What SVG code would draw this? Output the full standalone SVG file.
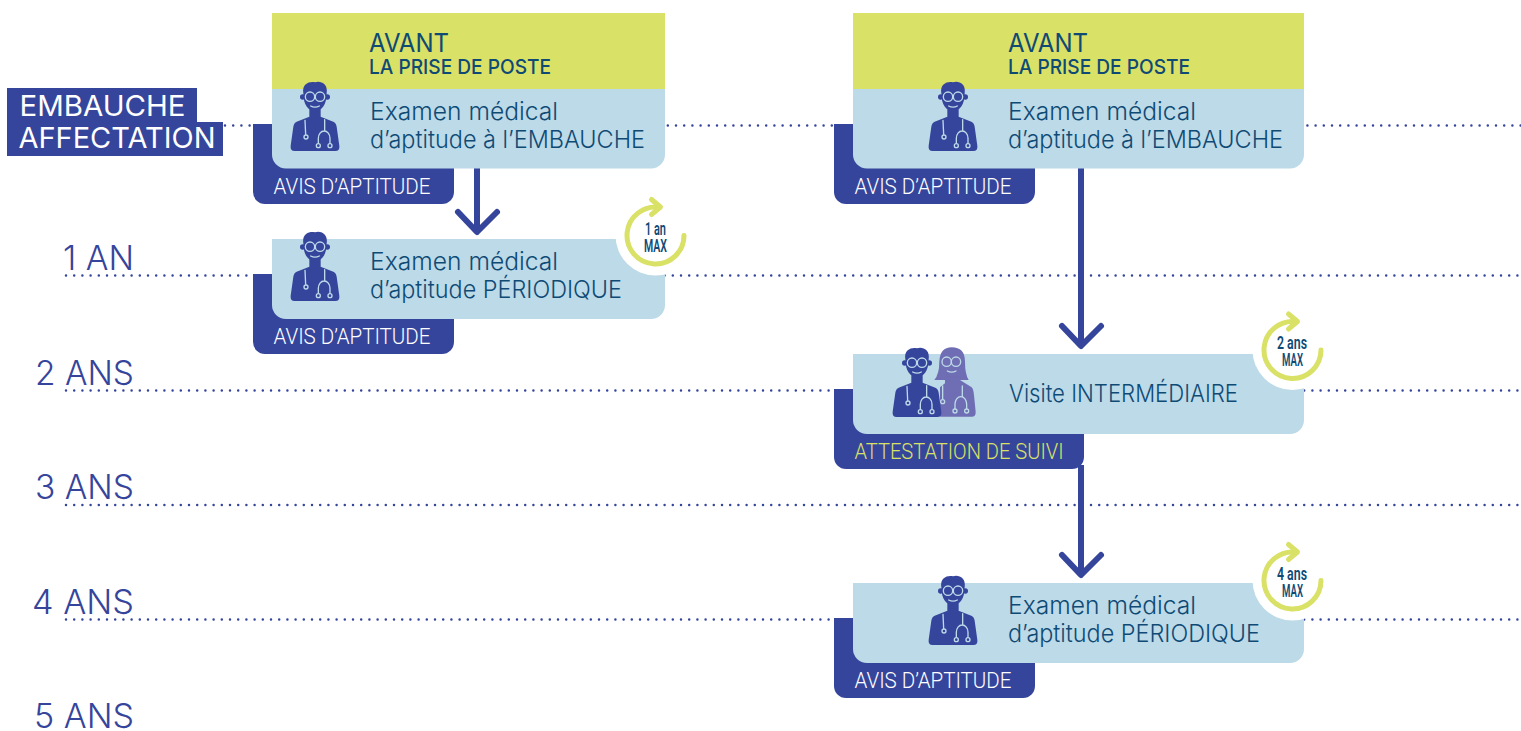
<svg xmlns="http://www.w3.org/2000/svg" width="1521" height="731" viewBox="0 0 1521 731">
<style>
.tab{fill:#36459C}
.blue{fill:#BCDAE8}
.yel{fill:#D9E166}
.t{font-family:"Inter","Lato","Liberation Sans",sans-serif;font-weight:300;font-size:24px;fill:#0F4A75}
.h1{font-family:"Inter","Liberation Sans",sans-serif;font-weight:400;font-size:26px;fill:#0F4A75}
.h2{font-family:"Inter","Liberation Sans",sans-serif;font-weight:500;font-size:20px;fill:#0F4A75}
.lab{font-family:"Roboto","Liberation Sans",sans-serif;font-weight:350;font-size:22px;fill:#fff}
.yr{font-family:"Inter","Liberation Sans",sans-serif;font-weight:350;font-size:34px;fill:#36459C}
.emb{font-family:"Inter","Liberation Sans",sans-serif;font-weight:400;font-size:29px;fill:#fff}
.bt{font-family:"Roboto","Liberation Sans",sans-serif;font-weight:600;font-size:19px;fill:#0F4A75}
.dot{fill:none;stroke:#36459C;stroke-width:2.500;stroke-linecap:round;stroke-dasharray:0 8.200}
.conn{fill:none;stroke:#36459C;stroke-width:6}
.chev{fill:none;stroke:#36459C;stroke-width:6;stroke-linecap:round;stroke-linejoin:round}
.ring{fill:none;stroke:#D9E166;stroke-width:5;stroke-linecap:round;stroke-linejoin:round}
.sth{fill:none;stroke:#BCDAE8;stroke-width:4;stroke-linecap:round}
</style>
<defs>
<g id="doc" transform="scale(.3333)">
<path fill="#36459C" d="M70,55C65,25 90,18 105,22C120,16 145,25 140,55C140,90 125,108 105,108C85,108 70,90 70,55Z"/>
<circle fill="#36459C" cx="68" cy="66" r="8"/><circle fill="#36459C" cx="142" cy="66" r="8"/>
<path fill="#36459C" d="M88,95H122V125L160,140Q168,143 170,155L178,212Q180,228 166,228H44Q30,228 32,212L40,155Q42,143 50,140L88,125Z"/>
<circle class="sth" cx="90" cy="65" r="14"/><circle class="sth" cx="120" cy="65" r="14"/>
<path class="sth" d="M92,93Q105,100 118,93M75,136L77,178M134,134V166M115,205V190A17.5,22 0 0 1 150,190V205"/>
<circle class="sth" cx="78" cy="186" r="6"/><circle class="sth" cx="115" cy="212" r="6"/><circle class="sth" cx="150" cy="212" r="6"/>
</g>
<g id="wom" transform="translate(830,300) scale(.3333)">
<path fill="#6F6DB3" d="M313,240Q328,222 328,185Q330,142 365,142Q405,142 405,185Q405,222 416,240Z"/>
<path fill="#6F6DB3" d="M345,230H390V240L425,262Q430,266 432,285L437,335Q438,350 425,350H330V262L345,250Z"/>
<circle class="sth" cx="350" cy="185" r="14"/><circle class="sth" cx="378" cy="185" r="14"/>
<path class="sth" d="M352,213Q365,220 378,213M338,258V298M397,258V290M375,326V312A17.5,22 0 0 1 410,312V326"/>
<circle class="sth" cx="338" cy="305" r="6"/><circle class="sth" cx="375" cy="333" r="6"/><circle class="sth" cx="410" cy="333" r="6"/>
</g>
<g id="badge">
<circle r="40" fill="#fff"/>
<path class="ring" d="M28.500,0A28.500,28.500 0 1 1 4,-28.200"/>
<path class="ring" d="M-4,-36L5,-28.500L-4,-21"/>
</g>
</defs>

<g id="gridlines">
<path class="dot" d="M225,125.500H1521"/>
<path class="dot" d="M66,275.500H1521"/>
<path class="dot" d="M66,390.500H1521"/>
<path class="dot" d="M66,505H1521"/>
<path class="dot" d="M66,619.500H1521"/>
</g>

<g id="connectors">
<path class="conn" d="M477,168V232"/>
<path class="chev" d="M458,212L477,232L497,212"/>
<path class="conn" d="M1081,168V346"/>
<path class="chev" d="M1062,326L1081,346L1101,326"/>
<path class="conn" d="M1081,465V574"/>
<path class="chev" d="M1062,555L1081,575L1101,555"/>
</g>

<g id="label-embauche">
<rect class="tab" x="7" y="88" width="190" height="35"/>
<rect class="tab" x="7" y="122" width="216" height="34"/>
<text class="emb" x="19.500" y="116" textLength="166" lengthAdjust="spacingAndGlyphs">EMBAUCHE</text>
<text class="emb" x="18.500" y="148" textLength="197" lengthAdjust="spacingAndGlyphs">AFFECTATION</text>
</g>
<g id="label-1an"><text class="yr" x="63" y="270" textLength="71" lengthAdjust="spacingAndGlyphs">1 AN</text></g>
<g id="label-2ans"><text class="yr" x="35" y="385" textLength="99" lengthAdjust="spacingAndGlyphs">2 ANS</text></g>
<g id="label-3ans"><text class="yr" x="35" y="499" textLength="99" lengthAdjust="spacingAndGlyphs">3 ANS</text></g>
<g id="label-4ans"><text class="yr" x="32" y="614" textLength="102" lengthAdjust="spacingAndGlyphs">4 ANS</text></g>
<g id="label-5ans"><text class="yr" x="34" y="728" textLength="100" lengthAdjust="spacingAndGlyphs">5 ANS</text></g>

<g id="node-embauche-left">
<path class="tab" d="M253,124H454V192A12,12 0 0 1 442,204H265A12,12 0 0 1 253,192Z"/>
<rect class="yel" x="272" y="13" width="393" height="76"/>
<path class="blue" d="M272,89H665V154A14,14 0 0 1 651,168.500H286A14,14 0 0 1 272,154Z"/>
<use href="#doc" transform="translate(280,75)"/>
<text class="h1" x="369" y="52" textLength="80" lengthAdjust="spacingAndGlyphs">AVANT</text>
<text class="h2" x="369" y="74" textLength="182" lengthAdjust="spacingAndGlyphs">LA PRISE DE POSTE</text>
<text class="t" x="370" y="120" textLength="188" lengthAdjust="spacingAndGlyphs">Examen médical</text>
<text class="t" x="370" y="148" textLength="275" lengthAdjust="spacingAndGlyphs">d’aptitude à l’EMBAUCHE</text>
<text class="lab" x="273.500" y="194" textLength="157" lengthAdjust="spacingAndGlyphs">AVIS D’APTITUDE</text>
</g>

<g id="node-periodique-left">
<path class="tab" d="M253,274H454V342A12,12 0 0 1 442,354H265A12,12 0 0 1 253,342Z"/>
<path class="blue" d="M272,239H665V305A14,14 0 0 1 651,319H286A14,14 0 0 1 272,305Z"/>
<use href="#doc" transform="translate(280,225)"/>
<text class="t" x="370" y="270" textLength="188" lengthAdjust="spacingAndGlyphs">Examen médical</text>
<text class="t" x="370" y="298" textLength="252" lengthAdjust="spacingAndGlyphs">d’aptitude PÉRIODIQUE</text>
<text class="lab" x="273.500" y="344" textLength="157" lengthAdjust="spacingAndGlyphs">AVIS D’APTITUDE</text>
<use href="#badge" transform="translate(655.500,235.500)"/>
<text class="bt" x="645" y="235" textLength="21" lengthAdjust="spacingAndGlyphs">1 an</text>
<text class="bt" x="644" y="252" textLength="23" lengthAdjust="spacingAndGlyphs">MAX</text>
</g>

<g id="node-embauche-right">
<path class="tab" d="M834,124H1035V192A12,12 0 0 1 1023,204H846A12,12 0 0 1 834,192Z"/>
<rect class="yel" x="853" y="13" width="451" height="76"/>
<path class="blue" d="M853,89H1304V154A14,14 0 0 1 1290,168.500H867A14,14 0 0 1 853,154Z"/>
<use href="#doc" transform="translate(918,75)"/>
<text class="h1" x="1008" y="52" textLength="80" lengthAdjust="spacingAndGlyphs">AVANT</text>
<text class="h2" x="1008" y="74" textLength="182" lengthAdjust="spacingAndGlyphs">LA PRISE DE POSTE</text>
<text class="t" x="1008" y="120" textLength="188" lengthAdjust="spacingAndGlyphs">Examen médical</text>
<text class="t" x="1008" y="148" textLength="275" lengthAdjust="spacingAndGlyphs">d’aptitude à l’EMBAUCHE</text>
<text class="lab" x="854.500" y="194" textLength="157" lengthAdjust="spacingAndGlyphs">AVIS D’APTITUDE</text>
</g>

<g id="node-intermediaire">
<path class="tab" d="M834,389H1084V457A12,12 0 0 1 1072,469H846A12,12 0 0 1 834,457Z"/>
<path class="blue" d="M853,354H1304V420A14,14 0 0 1 1290,434H867A14,14 0 0 1 853,420Z"/>
<use href="#wom"/>
<use href="#doc" transform="translate(882,341)"/>
<text class="t" x="1009" y="402" textLength="229" lengthAdjust="spacingAndGlyphs">Visite INTERMÉDIAIRE</text>
<text class="lab" x="854.500" y="459" textLength="209" lengthAdjust="spacingAndGlyphs" style="fill:#D9E166">ATTESTATION DE SUIVI</text>
<use href="#badge" transform="translate(1292.500,350)"/>
<text class="bt" x="1277" y="349" textLength="30" lengthAdjust="spacingAndGlyphs">2 ans</text>
<text class="bt" x="1282" y="366" textLength="21" lengthAdjust="spacingAndGlyphs">MAX</text>
</g>

<g id="node-periodique-right">
<path class="tab" d="M834,618H1035V686A12,12 0 0 1 1023,698H846A12,12 0 0 1 834,686Z"/>
<path class="blue" d="M853,583H1304V649A14,14 0 0 1 1290,663H867A14,14 0 0 1 853,649Z"/>
<use href="#doc" transform="translate(918,569)"/>
<text class="t" x="1008" y="614" textLength="188" lengthAdjust="spacingAndGlyphs">Examen médical</text>
<text class="t" x="1008" y="642" textLength="252" lengthAdjust="spacingAndGlyphs">d’aptitude PÉRIODIQUE</text>
<text class="lab" x="854.500" y="688" textLength="157" lengthAdjust="spacingAndGlyphs">AVIS D’APTITUDE</text>
<use href="#badge" transform="translate(1292.500,580.500)"/>
<text class="bt" x="1277" y="580" textLength="30" lengthAdjust="spacingAndGlyphs">4 ans</text>
<text class="bt" x="1282" y="597" textLength="21" lengthAdjust="spacingAndGlyphs">MAX</text>
</g>
</svg>
